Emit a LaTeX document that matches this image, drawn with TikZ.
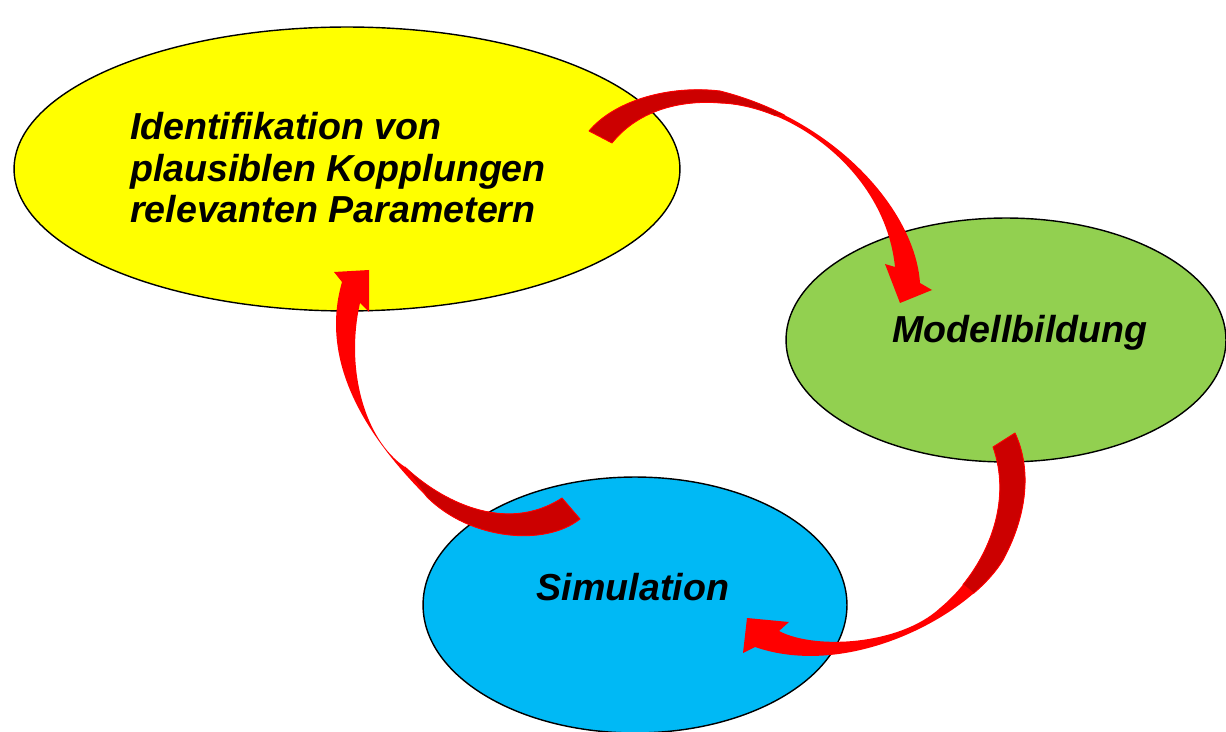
\documentclass[tikz,border=0pt]{standalone}
\usepackage{fontspec}
\setmainfont{Liberation Sans}
\usetikzlibrary{shapes.geometric}

\definecolor{ovalyellow}{HTML}{FFFF00}
\definecolor{ovalgreen}{HTML}{92D050}
\definecolor{ovalblue}{HTML}{00B9F5}
\definecolor{arrowred}{HTML}{FF0000}
\definecolor{arrowdark}{HTML}{CC0000}

\begin{document}
\begin{tikzpicture}[x=0.02cm, y=-0.02cm]
    \tikzstyle{oval} = [ellipse, draw=black, line width=0.8pt, inner sep=0pt]
    \tikzstyle{ovaltext} = [font=\fontsize{21.4}{23.6}\selectfont\bfseries\itshape, inner sep=0pt, align=left]
    \tikzstyle{brightface} = [fill=arrowred]
    \tikzstyle{darkface} = [fill=arrowdark, draw=arrowred, line width=0.5pt, line join=round]

    \useasboundingbox (0,0) rectangle (1226,732);

    % Ovals
    \node[oval, fill=ovalyellow, minimum width=13.32cm, minimum height=5.68cm] (ident) at (347,169) {};
    \node[oval, fill=ovalgreen, minimum width=8.8cm, minimum height=4.88cm] (modell) at (1006,340) {};
    \node[oval, fill=ovalblue, minimum width=8.48cm, minimum height=5.12cm] (sim) at (635,605) {};

    % Texts
    \node[ovaltext] (identtext) at (338,168) {Identifikation von\\plausiblen Kopplungen\\relevanten Parametern};
    \node[ovaltext] (modelltext) at (1020,333) {Modellbildung};
    \node[ovaltext] (simtext) at (633,587) {Simulation};

    % Arrow: Identifikation -> Modellbildung
    \fill[brightface] (612,143) .. controls (640,108) and (685,100) .. (720,103)
        .. controls (790,105) and (885,170) .. (895,267)
        -- (885,264) -- (900,303) -- (932,290) -- (920,283)
        .. controls (915,210) and (835,120) .. (720,91)
        .. controls (670,85) and (615,100) .. (589,131) -- cycle;
    \filldraw[darkface] (612,143) .. controls (640,108) and (685,100) .. (720,103)
        .. controls (737.5,103.5) and (756.6,107.9) .. (775.5,115.8)
        -- (784.5,115.1) .. controls (764.6,105) and (743,96.8) .. (720,91)
        .. controls (670,85) and (615,100) .. (589,131) -- cycle;

    % Arrow: Modellbildung -> Simulation
    \fill[brightface] (1015,433) .. controls (1030,465) and (1030,510) .. (1003,560)
        .. controls (970,615) and (850,680) .. (755,647)
        -- (743,653) -- (747,618) -- (789,622) -- (779,631)
        .. controls (815,650) and (900,645) .. (940,608)
        .. controls (980,575) and (1015,510) .. (993,447) -- cycle;
    \filldraw[darkface] (1015,433) .. controls (1030,465) and (1030,510) .. (1003,560)
        .. controls (996.4,571) and (986.3,582.4) .. (973.6,593.3)
        -- (963,584.6) .. controls (991.7,549.1) and (1010.6,497.4) .. (993,447) -- cycle;

    % Arrow: Simulation -> Identifikation
    \fill[brightface] (580,519) .. controls (545,547) and (470,540) .. (427,497)
        .. controls (370,440) and (318,365) .. (342,282)
        -- (334,272) -- (369,270) -- (369,312) -- (360,303)
        .. controls (345,370) and (365,440) .. (405,467)
        .. controls (440,500) and (505,535) .. (562,498) -- cycle;
    \filldraw[darkface] (580,519) .. controls (545,547) and (470,540) .. (427,497)
        -- (405,467) .. controls (440,500) and (505,535) .. (562,498) -- cycle;
\end{tikzpicture}
\end{document}
